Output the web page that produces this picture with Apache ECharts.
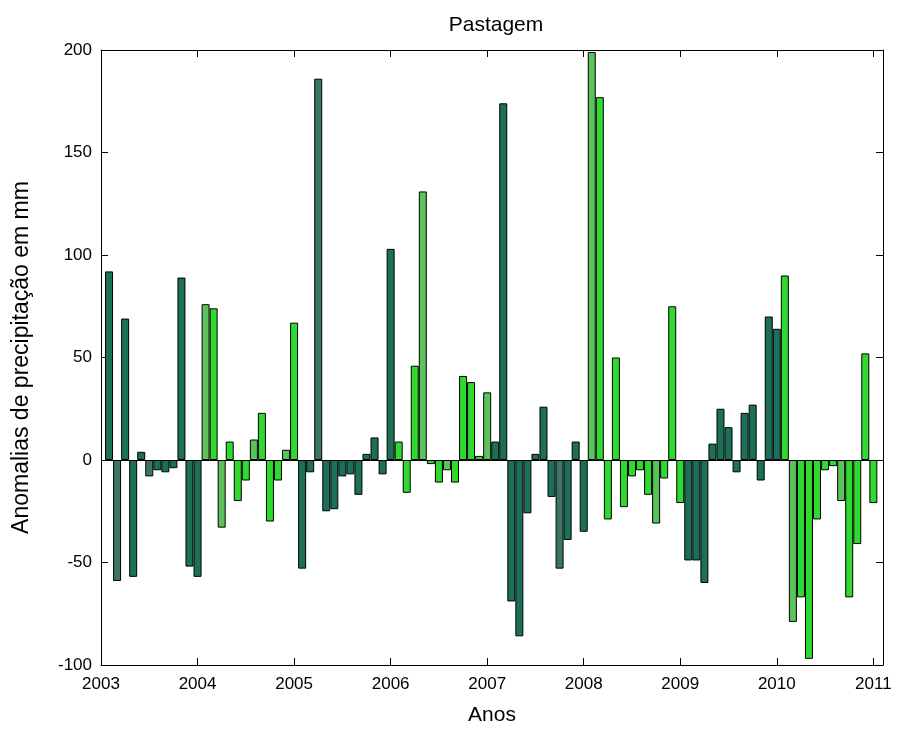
<!DOCTYPE html>
<html>
<head>
<meta charset="utf-8">
<title>Pastagem</title>
<script src="https://cdn.jsdelivr.net/npm/echarts@6/dist/echarts.min.js"></script>
<style>
  html, body { margin: 0; padding: 0; background: #ffffff; }
  #chart { width: 900px; height: 731px; }
</style>
</head>
<body>
<div id="chart"></div>
<script>
// Monthly precipitation anomalies (mm), Feb 2003 .. Jan 2011
const startYear = 2003;
const anomalies = [
  92, -59, 69, -57, 4, -8, -5, -6, -4, 89, -52, -57,
  76, 74, -33, 9, -20, -10, 10, 23, -30, -10, 5, 67,
  -53, -6, 186, -25, -24, -8, -7, -17, 3, 11, -7, 103,
  9, -16, 46, 131, -2, -11, -5, -11, 41, 38, 2, 33,
  9, 174, -69, -86, -26, 3, 26, -18, -53, -39, 9, -35,
  199, 177, -29, 50, -23, -8, -5, -17, -31, -9, 75, -21,
  -49, -49, -60, 8, 25, 16, -6, 23, 27, -10, 70, 64,
  90, -79, -67, -97, -29, -5, -3, -20, -67, -41, 52, -21
];
const yearTicks = [2003, 2004, 2005, 2006, 2007, 2008, 2009, 2010, 2011];
const yTicks = [-100, -50, 0, 50, 100, 150, 200];

// Fill colours: alternating twelve-month blocks, with a few shaded variants
const TEAL = '#1c705a', TEAL_DULL = '#3a7565';
const GREEN = '#2fd92f', GREEN_PALE = '#5cc25c';
const dullBars = new Set([1, 5, 26, 56, 12, 14, 18, 22, 39, 42, 47, 60, 68, 85, 91]);

const barData = anomalies.map((v, i) => {
  const block = Math.floor(i / 12);
  const teal = block % 2 === 0;
  const dull = dullBars.has(i);
  const color = teal ? (dull ? TEAL_DULL : TEAL) : (dull ? GREEN_PALE : GREEN);
  return {
    value: [startYear + (i + 1) / 12, v],
    itemStyle: { color: color, borderColor: '#000', borderWidth: 1 }
  };
});

const FONT = 'Liberation Sans, Arial, sans-serif';
const axisLine = { show: true, onZero: false, lineStyle: { color: '#000', width: 1 } };
const tick = { show: true, inside: true, length: 7, lineStyle: { color: '#000', width: 1 } };

const chart = echarts.init(document.getElementById('chart'), null, { renderer: 'canvas' });
chart.setOption({
  backgroundColor: '#ffffff',
  animation: false,
  title: {
    text: 'Pastagem',
    left: 491,
    top: 10,
    textAlign: 'center',
    textStyle: { fontFamily: FONT, fontSize: 21, fontWeight: 'normal', color: '#000' }
  },
  grid: { left: 101, right: 17, top: 50, bottom: 63, containLabel: false },
  xAxis: [
    {
      type: 'value',
      min: yearTicks[0],
      max: 2011.1,
      interval: 1,
      position: 'bottom',
      name: 'Anos',
      nameLocation: 'middle',
      nameGap: 40,
      nameTextStyle: { fontFamily: FONT, fontSize: 21, color: '#000' },
      axisLine: axisLine,
      axisTick: tick,
      splitLine: { show: false },
      axisLabel: {
        fontFamily: FONT, fontSize: 17, color: '#000', margin: 11,
        formatter: v => (yearTicks.includes(v) ? String(v) : '')
      }
    },
    {
      type: 'value',
      min: yearTicks[0],
      max: 2011.1,
      interval: 1,
      position: 'top',
      axisLine: axisLine,
      axisTick: tick,
      splitLine: { show: false },
      axisLabel: { show: false }
    }
  ],
  yAxis: [
    {
      type: 'value',
      min: yTicks[0],
      max: yTicks[yTicks.length - 1],
      interval: 50,
      position: 'left',
      name: 'Anomalias de precipitação em mm',
      nameLocation: 'middle',
      nameRotate: 90,
      nameGap: 68,
      nameTextStyle: { fontFamily: FONT, fontSize: 23, color: '#000' },
      axisLine: axisLine,
      axisTick: tick,
      splitLine: { show: false },
      axisLabel: { fontFamily: FONT, fontSize: 17, color: '#000', margin: 9 }
    },
    {
      type: 'value',
      min: yTicks[0],
      max: yTicks[yTicks.length - 1],
      interval: 50,
      position: 'right',
      axisLine: axisLine,
      axisTick: tick,
      splitLine: { show: false },
      axisLabel: { show: false }
    }
  ],
  series: [
    {
      type: 'bar',
      xAxisIndex: 0,
      yAxisIndex: 0,
      data: barData,
      barWidth: 8,
      markLine: {
        silent: true,
        symbol: 'none',
        label: { show: false },
        lineStyle: { color: '#000', width: 1, type: 'solid' },
        data: [{ yAxis: 0 }]
      }
    }
  ]
});
</script>
</body>
</html>
